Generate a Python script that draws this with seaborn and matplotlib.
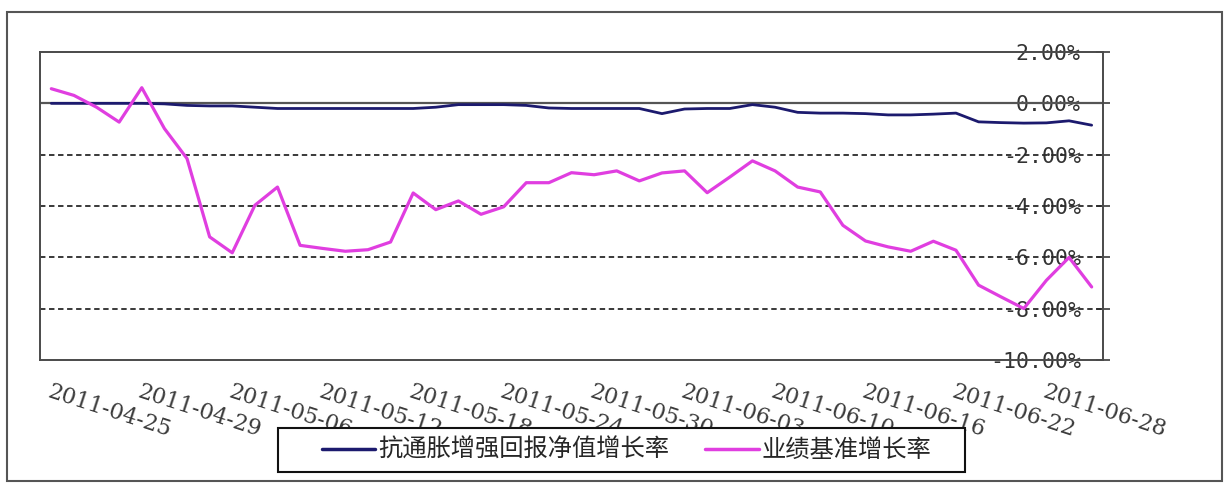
import matplotlib
matplotlib.use("Agg")
import matplotlib.pyplot as plt
import numpy as np
import pandas as pd
import seaborn as sns
from matplotlib.patches import Rectangle
from matplotlib.ticker import FuncFormatter


# trading days shown on the category axis
DATES = [
    "2011-04-25", "2011-04-26", "2011-04-27", "2011-04-28", "2011-04-29",
    "2011-05-03", "2011-05-04", "2011-05-05", "2011-05-06",
    "2011-05-09", "2011-05-10", "2011-05-11", "2011-05-12", "2011-05-13",
    "2011-05-16", "2011-05-17", "2011-05-18", "2011-05-19", "2011-05-20",
    "2011-05-23", "2011-05-24", "2011-05-25", "2011-05-26", "2011-05-27",
    "2011-05-30", "2011-05-31", "2011-06-01", "2011-06-02", "2011-06-03",
    "2011-06-07", "2011-06-08", "2011-06-09", "2011-06-10",
    "2011-06-13", "2011-06-14", "2011-06-15", "2011-06-16", "2011-06-17",
    "2011-06-20", "2011-06-21", "2011-06-22", "2011-06-23", "2011-06-24",
    "2011-06-27", "2011-06-28", "2011-06-29", "2011-06-30",
]

FUND_NAME = "抗通胀增强回报净值增长率"
BENCH_NAME = "业绩基准增长率"

# growth rates in percent
FUND = [
    0.00, 0.00, 0.00, 0.00, 0.00,
    -0.02, -0.08, -0.10, -0.10,
    -0.15, -0.20, -0.20, -0.20, -0.20,
    -0.20, -0.20, -0.20, -0.15, -0.05,
    -0.05, -0.05, -0.08, -0.18, -0.20,
    -0.20, -0.20, -0.20, -0.40, -0.22,
    -0.20, -0.20, -0.05, -0.15,
    -0.35, -0.38, -0.38, -0.40, -0.45,
    -0.45, -0.42, -0.38, -0.72, -0.75,
    -0.77, -0.76, -0.68, -0.85,
]
BENCH = [
    0.57, 0.31, -0.15, -0.73, 0.61,
    -0.98, -2.15, -5.20, -5.82,
    -3.97, -3.26, -5.53, -5.65, -5.76,
    -5.70, -5.40, -3.49, -4.14, -3.80,
    -4.32, -4.03, -3.09, -3.09, -2.70,
    -2.78, -2.63, -3.02, -2.71, -2.63,
    -3.48, -2.87, -2.24, -2.63,
    -3.26, -3.45, -4.75, -5.36, -5.59,
    -5.76, -5.37, -5.72, -7.08, -7.54,
    -7.99, -6.89, -6.00, -7.15,
]

Y_TICKS = [2, 0, -2, -4, -6, -8, -10]
LABEL_STEP = 4

NAVY = "#1c1a6e"
MAGENTA = "#e03ee0"

sns.set_theme(style="white")
plt.rcParams["font.family"] = ["Noto Sans CJK SC", "DejaVu Sans"]
plt.rcParams["axes.unicode_minus"] = False

df = pd.DataFrame({"pos": np.arange(len(DATES)), "fund": FUND, "bench": BENCH})

fig = plt.figure(figsize=(12.31, 4.86), dpi=100)
ax = fig.add_axes([0.0325, 0.259, 0.8635, 0.634])

# outer chart frame
fig.patches.append(Rectangle((0.006, 0.010), 0.987, 0.965, transform=fig.transFigure,
                             fill=False, edgecolor="#555555", linewidth=1.5))

# horizontal gridlines (dashed) and solid zero line
for v in Y_TICKS[2:-1]:
    ax.axhline(v, color="#2a2a2a", linewidth=1.3, linestyle=(0, (3, 2)), zorder=1)
ax.axhline(0, color="#555555", linewidth=1.6, zorder=1.5)

sns.lineplot(data=df, x="pos", y="fund", color=NAVY, linewidth=2.0, ax=ax,
             label=FUND_NAME, zorder=3)
sns.lineplot(data=df, x="pos", y="bench", color=MAGENTA, linewidth=2.3, ax=ax,
             label=BENCH_NAME, zorder=4)

ax.set_xlim(-0.5, len(DATES) - 0.5)
ax.set_ylim(-10, 2)
ax.set_xlabel("")
ax.set_ylabel("")

for side in ["left", "top", "bottom", "right"]:
    ax.spines[side].set_visible(True)
    ax.spines[side].set_color("#4a4a4a")
    ax.spines[side].set_linewidth(1.4)

# y axis: on the right, labels sitting inside the plot area
ax.yaxis.tick_right()
ax.set_yticks(Y_TICKS)
ax.yaxis.set_major_formatter(FuncFormatter(lambda v, _: f"{v:.2f}%"))
ax.tick_params(axis="y", direction="inout", length=10, width=1.3, color="#4a4a4a",
               pad=-21, labelsize=15.5, labelcolor="#333333")
for lab in ax.get_yticklabels():
    lab.set_horizontalalignment("right")
    lab.set_fontfamily("DejaVu Sans Mono")

# x axis: every fourth trading day, slanted
tick_pos = list(range(0, len(DATES), LABEL_STEP))
ax.set_xticks(tick_pos)
ax.set_xticklabels([DATES[i] for i in tick_pos], rotation=-18, ha="left",
                   rotation_mode="anchor", fontfamily="DejaVu Serif",
                   fontsize=16, color="#3a3a3a")
ax.tick_params(axis="x", length=0, pad=15)

# legend: white box drawn over the slanted labels, entries on top
ax.get_legend().remove()
fig.patches.append(Rectangle((0.2258, 0.0288), 0.558, 0.0905, transform=fig.transFigure,
                             facecolor="white", edgecolor="#111111", linewidth=1.5,
                             zorder=2))
leg = fig.legend(handles=ax.lines[-2:], labels=[FUND_NAME, BENCH_NAME],
                 loc="center", bbox_to_anchor=(0.509, 0.074), ncol=2,
                 frameon=False, fontsize=17.5, handlelength=2.2,
                 handletextpad=0.12, columnspacing=1.5)
leg.set_zorder(3)
for line in leg.get_lines():
    line.set_linewidth(2.5)

fig.savefig("out.png", dpi=100)
plt.close(fig)
